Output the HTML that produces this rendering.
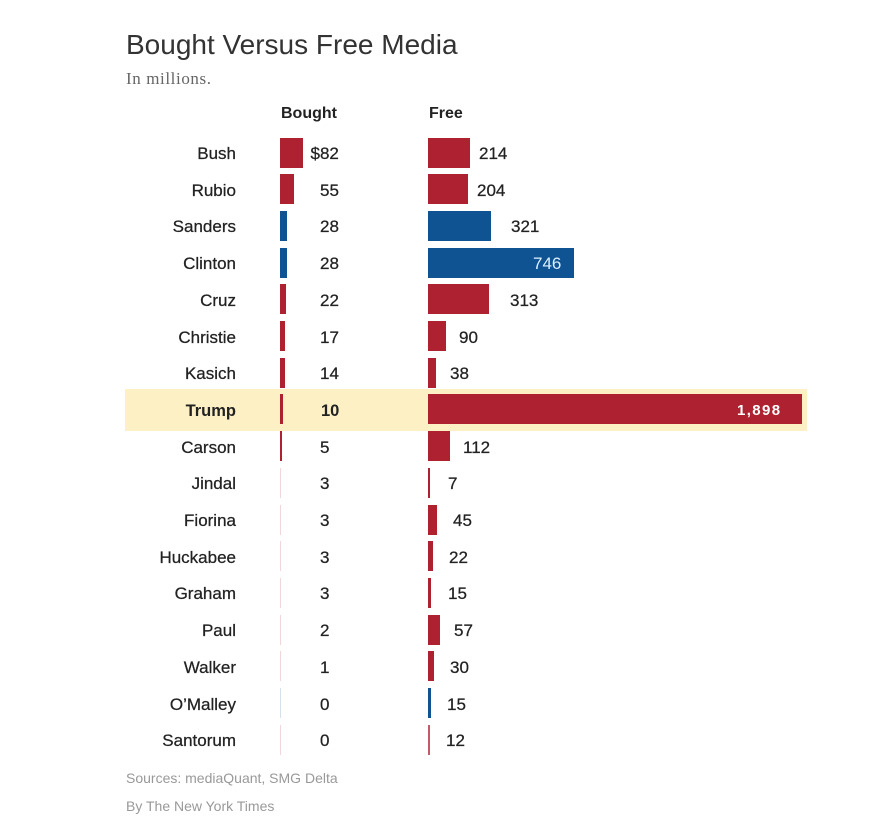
<!DOCTYPE html>
<html><head><meta charset="utf-8"><style>
html,body{margin:0;padding:0;background:#fff;}
body{width:873px;height:836px;position:relative;overflow:hidden;font-family:"Liberation Sans",sans-serif;color:#222;}
.a{position:absolute;white-space:nowrap;}
.t{font-size:28px;line-height:28px;color:#333;left:126px;top:31px;}
.sub{font-family:"Liberation Serif",serif;font-size:17px;line-height:17px;color:#666;left:126px;top:70px;letter-spacing:0.6px;}
.h{font-size:16px;line-height:16px;font-weight:bold;color:#222;top:105.5px;}
.lab{font-size:17px;line-height:30px;text-align:right;width:200px;left:36px;-webkit-text-stroke:0.25px #222;}
.num{font-size:17px;line-height:30px;-webkit-text-stroke:0.25px #222;}
.r{background:#ad2130;}
.b{background:#0f5393;}
.fr{background:rgba(173,33,48,0.18);}
.fb{background:rgba(15,83,147,0.18);}
.bar{position:absolute;height:30px;}
.src{font-size:14px;line-height:14px;color:#999;left:126px;}
</style></head><body>
<div class="a t">Bought Versus Free Media</div>
<div class="a sub">In millions.</div>
<div class="a h" style="left:281px;">Bought</div>
<div class="a h" style="left:429px;">Free</div>

<div class="a" style="left:125px;top:389px;width:682px;height:42px;background:#fdf0c4;"></div>

<!-- Row 0 Bush -->
<div class="a lab" style="top:139px;">Bush</div>
<div class="bar r" style="left:280px;top:137.5px;width:23px;"></div>
<div class="a num" style="left:310.5px;top:139px;">$82</div>
<div class="bar r" style="left:428px;top:137.5px;width:42px;"></div>
<div class="a num" style="left:479px;top:139px;">214</div>

<!-- Row 1 Rubio -->
<div class="a lab" style="top:175.7px;">Rubio</div>
<div class="bar r" style="left:280px;top:174.2px;width:14px;"></div>
<div class="a num" style="left:320px;top:175.7px;">55</div>
<div class="bar r" style="left:428px;top:174.2px;width:40px;"></div>
<div class="a num" style="left:477px;top:175.7px;">204</div>

<!-- Row 2 Sanders -->
<div class="a lab" style="top:212.4px;">Sanders</div>
<div class="bar b" style="left:280px;top:210.9px;width:6.5px;"></div>
<div class="a num" style="left:320px;top:212.4px;">28</div>
<div class="bar b" style="left:428px;top:210.9px;width:63px;"></div>
<div class="a num" style="left:511px;top:212.4px;">321</div>

<!-- Row 3 Clinton -->
<div class="a lab" style="top:249.1px;">Clinton</div>
<div class="bar b" style="left:280px;top:247.6px;width:6.5px;"></div>
<div class="a num" style="left:320px;top:249.1px;">28</div>
<div class="bar b" style="left:428px;top:247.6px;width:146px;"></div>
<div class="a num" style="left:533px;top:249.1px;color:#dcf0ff;-webkit-text-stroke:0;">746</div>

<!-- Row 4 Cruz -->
<div class="a lab" style="top:285.8px;">Cruz</div>
<div class="bar r" style="left:280px;top:284.3px;width:6px;"></div>
<div class="a num" style="left:320px;top:285.8px;">22</div>
<div class="bar r" style="left:428px;top:284.3px;width:61px;"></div>
<div class="a num" style="left:510px;top:285.8px;">313</div>

<!-- Row 5 Christie -->
<div class="a lab" style="top:322.5px;">Christie</div>
<div class="bar r" style="left:280px;top:321px;width:5px;"></div>
<div class="a num" style="left:320px;top:322.5px;">17</div>
<div class="bar r" style="left:428px;top:321px;width:18px;"></div>
<div class="a num" style="left:459px;top:322.5px;">90</div>

<!-- Row 6 Kasich -->
<div class="a lab" style="top:359.2px;">Kasich</div>
<div class="bar r" style="left:280px;top:357.7px;width:4.5px;"></div>
<div class="a num" style="left:320px;top:359.2px;">14</div>
<div class="bar r" style="left:428px;top:357.7px;width:7.5px;"></div>
<div class="a num" style="left:450px;top:359.2px;">38</div>

<!-- Row 7 Trump -->
<div class="a lab" style="top:395.9px;font-weight:bold;font-size:16.5px;-webkit-text-stroke:0;">Trump</div>
<div class="bar r" style="left:280px;top:394.4px;width:2.5px;"></div>
<div class="a num" style="left:321px;top:395.9px;font-weight:bold;font-size:16.5px;-webkit-text-stroke:0;">10</div>
<div class="bar r" style="left:428px;top:394.4px;width:374px;"></div>
<div class="a num" style="left:737px;top:395.9px;font-weight:bold;font-size:15px;letter-spacing:1.4px;color:#fff;-webkit-text-stroke:0;">1,898</div>

<!-- Row 8 Carson -->
<div class="a lab" style="top:432.6px;">Carson</div>
<div class="bar r" style="left:280px;top:431.1px;width:2px;"></div>
<div class="a num" style="left:320px;top:432.6px;">5</div>
<div class="bar r" style="left:428px;top:431.1px;width:22px;"></div>
<div class="a num" style="left:463px;top:432.6px;">112</div>

<!-- Row 9 Jindal -->
<div class="a lab" style="top:469.3px;">Jindal</div>
<div class="bar fr" style="left:280px;top:467.8px;width:1px;"></div>
<div class="a num" style="left:320px;top:469.3px;">3</div>
<div class="bar r" style="left:428px;top:467.8px;width:1.5px;"></div>
<div class="a num" style="left:448px;top:469.3px;">7</div>

<!-- Row 10 Fiorina -->
<div class="a lab" style="top:506px;">Fiorina</div>
<div class="bar fr" style="left:280px;top:504.5px;width:1px;"></div>
<div class="a num" style="left:320px;top:506px;">3</div>
<div class="bar r" style="left:428px;top:504.5px;width:9px;"></div>
<div class="a num" style="left:453px;top:506px;">45</div>

<!-- Row 11 Huckabee -->
<div class="a lab" style="top:542.7px;">Huckabee</div>
<div class="bar fr" style="left:280px;top:541.2px;width:1px;"></div>
<div class="a num" style="left:320px;top:542.7px;">3</div>
<div class="bar r" style="left:428px;top:541.2px;width:4.5px;"></div>
<div class="a num" style="left:449px;top:542.7px;">22</div>

<!-- Row 12 Graham -->
<div class="a lab" style="top:579.4px;">Graham</div>
<div class="bar fr" style="left:280px;top:577.9px;width:1px;"></div>
<div class="a num" style="left:320px;top:579.4px;">3</div>
<div class="bar r" style="left:428px;top:577.9px;width:3px;"></div>
<div class="a num" style="left:448px;top:579.4px;">15</div>

<!-- Row 13 Paul -->
<div class="a lab" style="top:616.1px;">Paul</div>
<div class="bar fr" style="left:280px;top:614.6px;width:1px;"></div>
<div class="a num" style="left:320px;top:616.1px;">2</div>
<div class="bar r" style="left:428px;top:614.6px;width:11.5px;"></div>
<div class="a num" style="left:454px;top:616.1px;">57</div>

<!-- Row 14 Walker -->
<div class="a lab" style="top:652.8px;">Walker</div>
<div class="bar fr" style="left:280px;top:651.3px;width:1px;"></div>
<div class="a num" style="left:320px;top:652.8px;">1</div>
<div class="bar r" style="left:428px;top:651.3px;width:6px;"></div>
<div class="a num" style="left:450px;top:652.8px;">30</div>

<!-- Row 15 O'Malley -->
<div class="a lab" style="top:689.5px;">O’Malley</div>
<div class="bar fb" style="left:280px;top:688px;width:1px;"></div>
<div class="a num" style="left:320px;top:689.5px;">0</div>
<div class="bar b" style="left:428px;top:688px;width:3px;"></div>
<div class="a num" style="left:447px;top:689.5px;">15</div>

<!-- Row 16 Santorum -->
<div class="a lab" style="top:726.2px;">Santorum</div>
<div class="bar fr" style="left:280px;top:724.7px;width:1px;"></div>
<div class="a num" style="left:320px;top:726.2px;">0</div>
<div class="bar" style="left:428px;top:724.7px;width:2px;background:#c25a6a;"></div>
<div class="a num" style="left:446px;top:726.2px;">12</div>

<div class="a src" style="top:771px;">Sources: mediaQuant, SMG Delta</div>
<div class="a src" style="top:799px;">By The New York Times</div>
</body></html>
